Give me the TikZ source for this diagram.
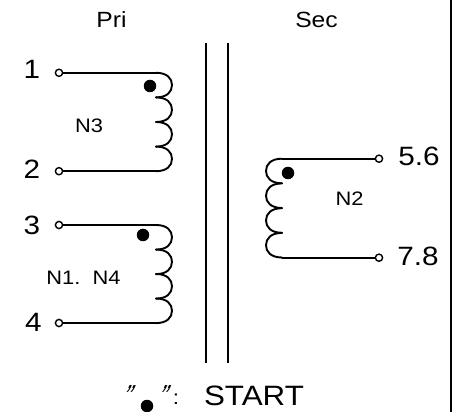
\documentclass[tikz,border=0pt]{standalone}
\usepackage{fontspec}
\setmainfont[FakeStretch=1.12]{Liberation Sans}
\tikzset{
  wire/.style={line width=1.9pt,line join=round,line cap=round},
  term/.style={circle,draw,line width=1.4pt,fill=white,minimum size=7.2pt,inner sep=0pt},
  startdot/.style={circle,fill=black,minimum size=12.5pt,inner sep=0pt},
  lab/.style={inner sep=0pt,text=black},
  big/.style={lab,font=\fontsize{26.5}{26.5}\selectfont},
  mid/.style={lab,font=\fontsize{22}{22}\selectfont},
  small/.style={lab,font=\fontsize{19.5}{19.5}\selectfont},
  tick/.style={lab,anchor=north,font=\fontsize{19}{19}\selectfont\itshape},
}
\newcommand{\lobeR}[2]{% right-bulging lobe, x of cusp, top y
  (#1,#2) .. controls (#1+11,#2) and (#1+16,#2+5.5) .. (#1+16,#2+12.3) .. controls (#1+16,#2+19) and (#1+11,#2+24.6) .. (#1,#2+24.6)}
\newcommand{\lobeL}[2]{% left-bulging lobe
  (#1,#2) .. controls (#1-11,#2) and (#1-16,#2+5.5) .. (#1-16,#2+12.3) .. controls (#1-16,#2+19) and (#1-11,#2+24.6) .. (#1,#2+24.6)}
\begin{document}
\begin{tikzpicture}[x=1pt,y=-1pt]
\useasboundingbox (0,0) rectangle (459,412);
% border and core
\coordinate (bt) at (451,0); \coordinate (bb) at (451,412);
\draw[line width=2pt] (bt) -- (bb);
\coordinate (c1t) at (206,43); \coordinate (c1b) at (206,363);
\coordinate (c2t) at (228,43); \coordinate (c2b) at (228,363);
\draw[line width=1.8pt] (c1t) -- (c1b);
\draw[line width=1.8pt] (c2t) -- (c2b);
% coil end coordinates
\coordinate (a1) at (156,72.8); \coordinate (a2) at (156,171.2);
\coordinate (b1) at (156,225); \coordinate (b2) at (156,323);
\coordinate (s1) at (282,158.7); \coordinate (s2) at (282,257.7);
% terminals
\node[term] (t1) at (59,72.8) {};
\node[term] (t2) at (59,171.2) {};
\node[term] (t3) at (59,225) {};
\node[term] (t4) at (59,323) {};
\node[term] (t5) at (379,158.7) {};
\node[term] (t6) at (379,257.7) {};
\draw[wire] (t1) -- (a1); \draw[wire] (t2) -- (a2);
\draw[wire] (t3) -- (b1); \draw[wire] (t4) -- (b2);
\draw[wire] (t5) -- (s1); \draw[wire] (t6) -- (s2);
% coils
\foreach \y in {72.8,97.4,122,146.6} \draw[wire] \lobeR{156}{\y};
\foreach \y in {225,249.5,274,298.5} \draw[wire] \lobeR{156}{\y};
\foreach \y in {158.7,183.4,208.2,232.9} \draw[wire] \lobeL{282}{\y};
% dots
\node[startdot] (d1) at (150,86) {};
\node[startdot] (d2) at (143,235) {};
\node[startdot] (d3) at (288,173) {};
\node[startdot] (d4) at (147,406) {};
% labels
\node[mid] (pri) at (111.5,19.5) {Pri};
\node[mid] (sec) at (316.5,20) {Sec};
\node[big] (l1) at (32,69.5) {1};
\node[big] (l2) at (32,169) {2};
\node[big] (l3) at (32,225) {3};
\node[big] (l4) at (33.5,322.5) {4};
\node[small] (n3) at (89,125.5) {N3};
\node[small] (n14) at (83.5,278) {N1.\ \ N4};
\node[small] (n2) at (349.5,199) {N2};
\node[big] (l56) at (419,156.5) {5.6};
\node[big] (l78) at (418,256) {7.8};
\node[tick,xslant=.3,transform shape] (q1) at (131,385.5) {\scalebox{1.15}[1.6]{"}};
\node[tick,xslant=.3,transform shape] (q2) at (166.5,385.5) {\scalebox{1.15}[1.6]{"}};
\node[lab,anchor=north,font=\fontsize{20}{20}\selectfont] (col) at (176,394) {:};
\node[lab,anchor=base,font=\fontsize{28}{28}\selectfont] (st) at (254,406) {START};
\end{tikzpicture}
\end{document}
